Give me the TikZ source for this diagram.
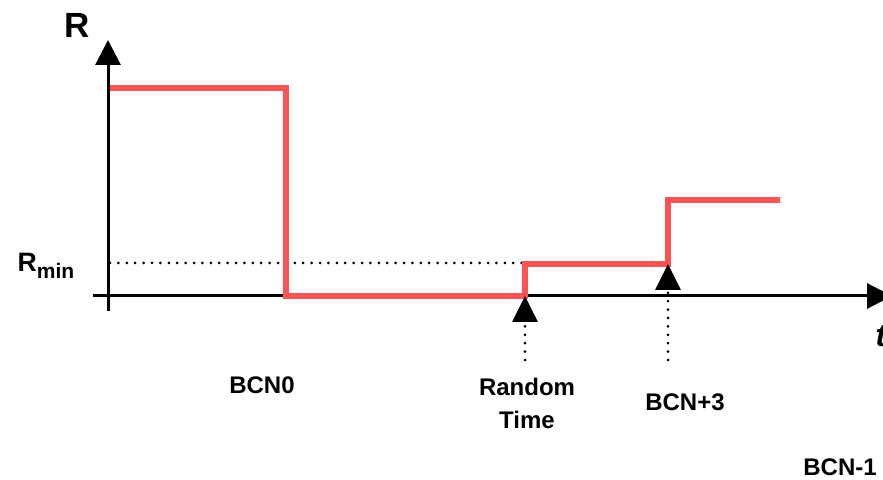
\documentclass[tikz,border=0pt]{standalone}
\usepackage{fontspec}
\setmainfont{Liberation Sans}
\usetikzlibrary{arrows.meta}
\definecolor{stepred}{RGB}{255,82,82}
\begin{document}
\begin{tikzpicture}[x=0.5pt,y=-0.5pt,
    axis/.style={line width=1.5pt, -{Triangle[length=12.5pt,width=12.5pt]}},
    rate/.style={line width=2.8pt, stepred},
    dots/.style={line width=1.5pt, line cap=round, dash pattern=on 0pt off 4.2pt},
    lbl/.style={font=\bfseries\fontsize{12}{16.5}\selectfont, align=center, inner sep=0pt}]
    \useasboundingbox (0,0) rectangle (883,480);
    % axes
    \coordinate (ybot) at (108,311);
    \coordinate (ytop) at (108,40);
    \coordinate (xleft) at (93,296);
    \coordinate (xright) at (892,296);
    \draw[axis] (ybot) -- (ytop);
    \draw[axis] (xleft) -- (xright);
    \node[font=\bfseries\fontsize{17.5}{20}\selectfont, inner sep=0pt] (rlbl) at (77,25) {R};
    \node[font=\bfseries\itshape\fontsize{16}{20}\selectfont, inner sep=0pt] (tlbl) at (881,336) {t};
    % R_min level
    \node[font=\bfseries\fontsize{13.3}{16}\selectfont, inner sep=0pt] (rmin) at (46,266)
        {R\raisebox{-0.45ex}{\fontsize{10.5}{12}\selectfont min}};
    \coordinate (rminl) at (110,263);
    \coordinate (rminr) at (522,263);
    \draw[dots] (rminl) -- (rminr);
    % rate steps
    \coordinate (s0) at (110,88);
    \coordinate (s1) at (286,88);
    \coordinate (s2) at (286,296);
    \coordinate (s3) at (525,296);
    \coordinate (s4) at (525,264);
    \coordinate (s5) at (668,264);
    \coordinate (s6) at (668,200);
    \coordinate (s7) at (780,200);
    \draw[rate] (s0) -- (s1) -- (s2) -- (s3) -- (s4) -- (s5) -- (s6) -- (s7);
    % event markers
    \coordinate (m1) at (525,296);
    \coordinate (m1b) at (525,360);
    \coordinate (m2) at (668,264);
    \coordinate (m2b) at (668,360);
    \draw[dots, -{Triangle[length=13pt,width=12.5pt]}] (m1b) -- (m1);
    \draw[dots, -{Triangle[length=13pt,width=12.5pt]}] (m2b) -- (m2);
    % labels
    \node[lbl] (bcn0) at (262,385) {BCN0};
    \node[lbl] (rnd) at (527,403) {Random\\Time};
    \node[lbl] (bcn3) at (685,402) {BCN+3};
    \node[lbl] (bcnm1) at (840,467) {BCN-1};
\end{tikzpicture}
\end{document}
